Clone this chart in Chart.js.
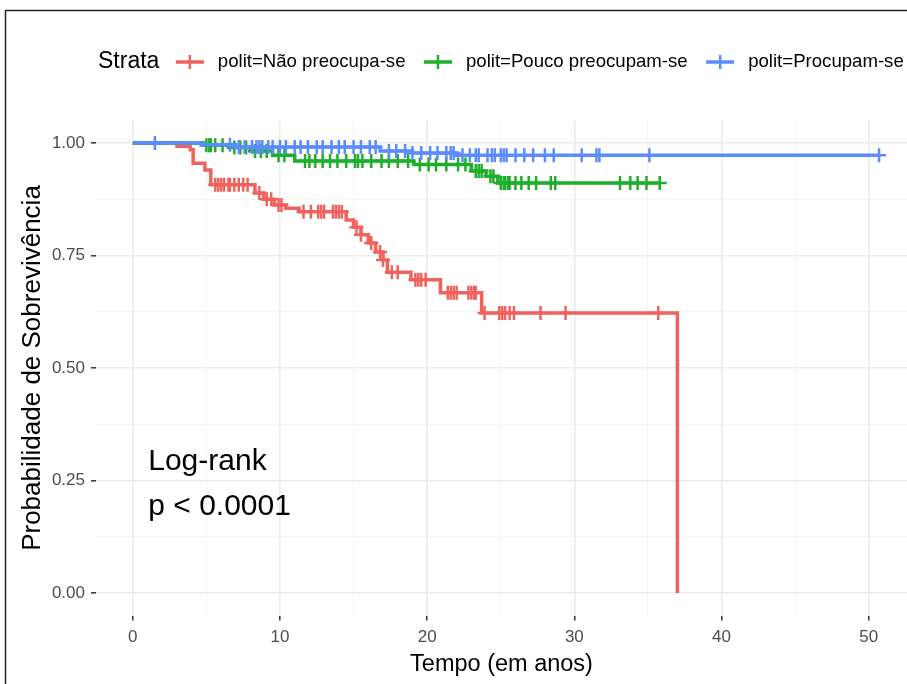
<!DOCTYPE html>
<html>
<head>
<meta charset="utf-8">
<script src="https://cdn.jsdelivr.net/npm/chart.js@4.4.1/dist/chart.umd.min.js"></script>
<style>
  html, body { margin: 0; padding: 0; background: #fff; }
  canvas { display: block; }
</style>
</head>
<body>
<canvas id="kmChart" width="907" height="684"></canvas>
<script>
const groups = ['polit=Não preocupa-se', 'polit=Pouco preocupam-se', 'polit=Procupam-se'];
const groupColors = ['#F0625E', '#1DAE2A', '#5B8CFF'];

// Kaplan-Meier steps: survival after each time
const redTime = [0, 3.0, 3.9, 4.1, 4.9, 5.3, 8.3, 8.9, 9.6, 10.4, 11.3, 14.5, 15.0, 15.5, 16.0, 16.5, 17.0, 17.3, 18.9, 20.9, 23.7, 37.0];
const redSurv = [1.0, 0.993, 0.985, 0.955, 0.94, 0.907, 0.889, 0.875, 0.862, 0.855, 0.847, 0.829, 0.813, 0.796, 0.778, 0.758, 0.74, 0.713, 0.696, 0.667, 0.622, 0.0];
const redCensor = [5.6, 5.8, 6.0, 6.2, 6.5, 6.6, 6.9, 7.2, 7.5, 7.8, 8.6, 9.1, 9.4, 9.9, 10.1, 11.6, 12.1, 12.6, 12.8, 13.0, 13.6, 13.8, 14.0, 14.2, 15.2, 15.5, 16.2, 16.8, 17.0, 17.6, 18.0, 19.2, 19.4, 19.6, 19.9, 21.4, 21.6, 21.8, 22.0, 22.8, 23.0, 23.2, 23.3, 23.9, 24.9, 25.1, 25.3, 25.6, 25.9, 27.7, 29.4, 35.7];

const greenTime = [0, 4.8, 6.5, 8.0, 9.5, 11.0, 19.1, 23.0, 24.0, 24.8, 35.8];
const greenSurv = [1.0, 0.995, 0.99, 0.982, 0.973, 0.96, 0.952, 0.938, 0.926, 0.911, 0.911];
const greenCensor = [5.0, 5.2, 5.3, 5.6, 6.1, 6.9, 7.3, 7.7, 8.3, 8.7, 9.1, 9.9, 10.3, 11.7, 12.0, 12.4, 12.9, 13.4, 13.9, 14.5, 15.1, 15.3, 15.6, 16.2, 16.9, 17.4, 18.0, 18.7, 19.5, 20.1, 20.6, 21.3, 22.1, 22.6, 23.3, 23.5, 23.7, 24.3, 24.5, 25.0, 25.2, 25.3, 25.5, 25.6, 26.0, 26.4, 26.9, 27.4, 28.4, 28.7, 33.1, 33.8, 34.3, 34.9, 35.8];

const blueTime = [0, 4.7, 7.0, 16.8, 19.0, 22.0, 50.7];
const blueSurv = [1.0, 0.996, 0.991, 0.982, 0.978, 0.973, 0.973];
const blueCensor = [1.5, 6.6, 7.2, 7.6, 8.1, 8.4, 8.6, 8.8, 9.2, 9.5, 10.0, 10.4, 11.0, 11.4, 11.9, 12.5, 12.9, 13.5, 14.0, 14.4, 15.0, 15.5, 16.1, 16.5, 17.4, 17.9, 18.5, 19.0, 19.6, 20.2, 20.7, 21.3, 21.6, 21.8, 22.4, 22.9, 23.3, 23.5, 24.1, 24.4, 24.6, 25.0, 25.2, 25.4, 26.0, 26.6, 27.2, 28.0, 28.6, 30.5, 31.5, 31.7, 35.1, 50.7];

const xMajorTicks = [0, 10, 20, 30, 40, 50];
const xMinorTicks = [5, 15, 25, 35, 45];
const yMajorTicks = [0, 0.25, 0.5, 0.75, 1.0];
const yMinorTicks = [0.125, 0.375, 0.625, 0.875];

const FONT = '"Liberation Sans", Arial, Helvetica, sans-serif';

function stepPoints(times, surv) {
  return times.map((t, i) => ({ x: t, y: surv[i] }));
}
function survAt(times, surv, t) {
  let s = surv[0];
  for (let i = 0; i < times.length; i++) {
    if (times[i] <= t) s = surv[i];
  }
  return s;
}
function censorPoints(times, surv, cens) {
  return cens.map(t => ({ x: t, y: survAt(times, surv, t) }));
}

const series = [
  { t: redTime, s: redSurv, c: redCensor },
  { t: greenTime, s: greenSurv, c: greenCensor },
  { t: blueTime, s: blueSurv, c: blueCensor }
];

const datasets = [];
series.forEach((g, i) => {
  const ord = 2 - i; // blue on top
  datasets.push({
    label: groups[i],
    data: stepPoints(g.t, g.s),
    stepped: true,
    borderColor: groupColors[i],
    borderWidth: 3.5,
    pointRadius: 0,
    fill: false,
    order: ord
  });
  datasets.push({
    label: groups[i] + ' censor',
    data: censorPoints(g.t, g.s, g.c),
    showLine: false,
    pointStyle: 'cross',
    pointRadius: 7,
    pointBorderWidth: 2.5,
    borderColor: groupColors[i],
    backgroundColor: groupColors[i],
    order: ord
  });
});

const isMajorX = v => xMajorTicks.includes(v);
const isMajorY = v => yMajorTicks.some(m => Math.abs(m - v) < 1e-9);

const frame = {
  id: 'frame',
  afterDraw(chart) {
    const ctx = chart.ctx;
    ctx.save();
    ctx.strokeStyle = '#222';
    ctx.lineWidth = 1.5;
    ctx.beginPath();
    ctx.moveTo(5.5, 684);
    ctx.lineTo(5.5, 10.5);
    ctx.lineTo(907, 10.5);
    ctx.stroke();
    ctx.restore();
  }
};

const legendStrata = {
  id: 'legendStrata',
  afterDraw(chart) {
    const ctx = chart.ctx;
    const y = 62;
    ctx.save();
    ctx.textBaseline = 'middle';
    ctx.fillStyle = '#000';
    ctx.font = '23px ' + FONT;
    let x = 98;
    ctx.fillText('Strata', x, y);
    x += ctx.measureText('Strata').width + 16.5;
    ctx.font = '18.6px ' + FONT;
    groups.forEach((name, i) => {
      ctx.strokeStyle = groupColors[i];
      ctx.lineWidth = 3.5;
      ctx.beginPath();
      ctx.moveTo(x, y);
      ctx.lineTo(x + 28, y);
      ctx.stroke();
      ctx.lineWidth = 2.5;
      ctx.beginPath();
      ctx.moveTo(x + 14, y - 7);
      ctx.lineTo(x + 14, y + 7);
      ctx.stroke();
      x += 28 + 14;
      ctx.fillStyle = '#000';
      ctx.fillText(name, x, y);
      x += ctx.measureText(name).width + 18.5;
    });
    ctx.restore();
  }
};

const logRank = {
  id: 'logRank',
  afterDatasetsDraw(chart) {
    const ctx = chart.ctx;
    const xs = chart.scales.x, ys = chart.scales.y;
    ctx.save();
    ctx.fillStyle = '#000';
    ctx.font = '30px ' + FONT;
    ctx.textBaseline = 'middle';
    ctx.textAlign = 'left';
    const x = xs.getPixelForValue(1.05);
    ctx.fillText('Log-rank', x, ys.getPixelForValue(0.291));
    ctx.fillText('p < 0.0001', x, ys.getPixelForValue(0.191));
    ctx.restore();
  }
};

new Chart(document.getElementById('kmChart').getContext('2d'), {
  type: 'line',
  data: { datasets: datasets },
  options: {
    responsive: false,
    animation: false,
    layout: { autoPadding: false, padding: { top: 120.5, left: 0, right: 0, bottom: 0 } },
    plugins: {
      legend: { display: false },
      tooltip: { enabled: false }
    },
    scales: {
      x: {
        type: 'linear',
        min: -2.5,
        max: 52.6,
        afterBuildTicks: s => { s.ticks = xMinorTicks.concat(xMajorTicks).sort((a, b) => a - b).map(v => ({ value: v })); },
        afterFit: s => { s.height = 68.5; s.paddingLeft = 0; s.paddingRight = 0; },
        border: { display: false },
        grid: {
          color: c => isMajorX(c.tick.value) ? '#ebebeb' : '#f3f3f3',
          lineWidth: c => isMajorX(c.tick.value) ? 1.6 : 0.9,
          tickColor: c => isMajorX(c.tick.value) ? '#333' : 'rgba(0,0,0,0)',
          tickLength: 5,
          tickWidth: 1.5
        },
        ticks: {
          autoSkip: false,
          maxRotation: 0,
          padding: 7,
          color: '#4d4d4d',
          font: { family: FONT, size: 17 },
          callback: v => isMajorX(v) ? String(v) : ''
        },
        title: {
          display: true,
          text: 'Tempo (em anos)',
          color: '#000',
          font: { family: FONT, size: 23.5 },
          padding: { top: 0, bottom: 5 }
        }
      },
      y: {
        type: 'linear',
        min: -0.05,
        max: 1.05,
        afterBuildTicks: s => { s.ticks = yMajorTicks.concat(yMinorTicks).sort((a, b) => a - b).map(v => ({ value: v })); },
        afterFit: s => { s.width = 96; s.paddingTop = 0; s.paddingBottom = 0; },
        border: { display: false },
        grid: {
          color: c => isMajorY(c.tick.value) ? '#ebebeb' : '#f3f3f3',
          lineWidth: c => isMajorY(c.tick.value) ? 1.6 : 0.9,
          tickColor: c => isMajorY(c.tick.value) ? '#333' : 'rgba(0,0,0,0)',
          tickLength: 5,
          tickWidth: 1.5
        },
        ticks: {
          autoSkip: false,
          padding: 6,
          color: '#4d4d4d',
          font: { family: FONT, size: 17 },
          callback: v => isMajorY(v) ? v.toFixed(2) : ''
        },
        title: {
          display: true,
          text: 'Probabilidade de Sobrevivência',
          color: '#000',
          font: { family: FONT, size: 26 },
          padding: { top: 17, bottom: 0 }
        }
      }
    }
  },
  plugins: [frame, legendStrata, logRank]
});
</script>
</body>
</html>
